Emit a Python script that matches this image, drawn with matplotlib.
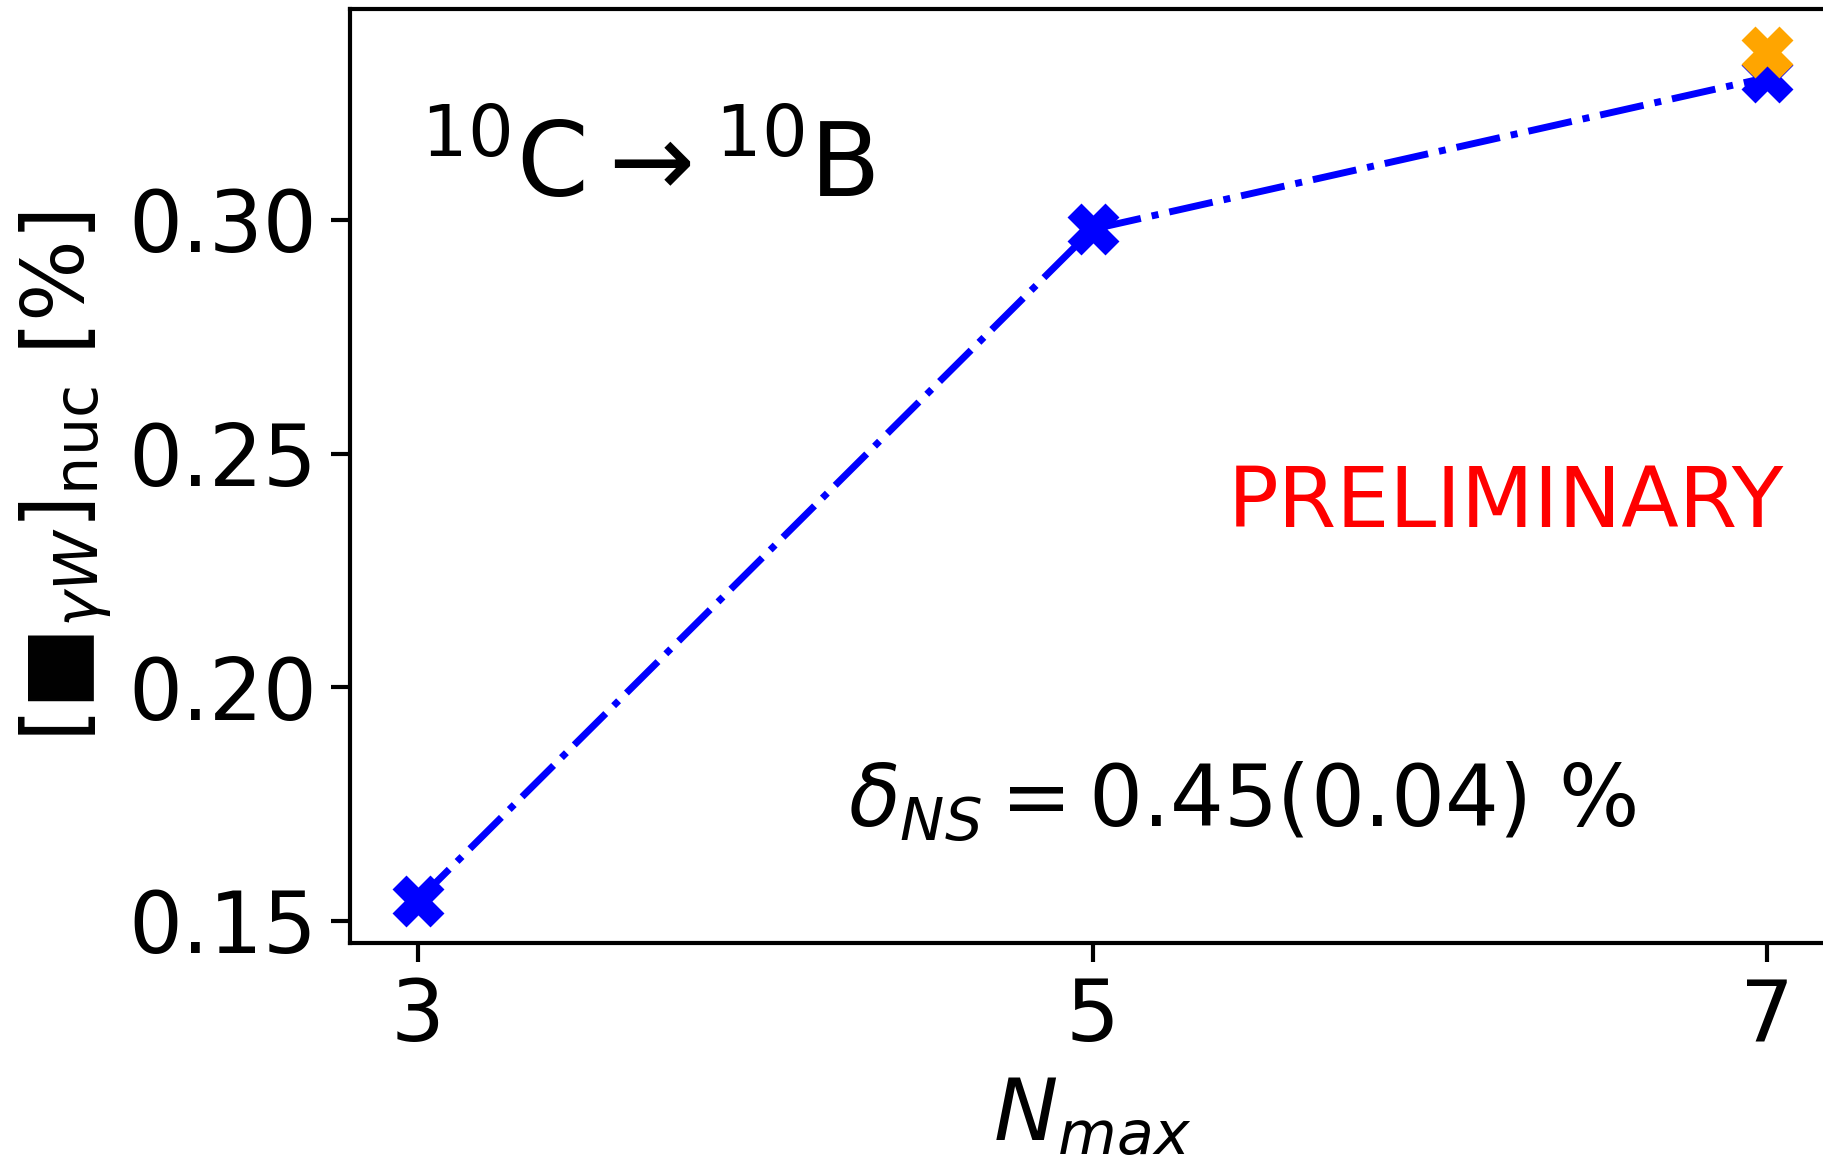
import matplotlib
matplotlib.use('Agg')
import matplotlib.pyplot as plt

# NCSM results vs Nmax
nmax = [3, 5, 7]
blue_vals = [0.1543, 0.2980, 0.3305]
nmax_orange = [7]
orange_vals = [0.3360]

fig = plt.figure(figsize=(9.12, 5.8), dpi=200)
ax = fig.add_axes([0.192, 0.187, 0.814, 0.805])

ax.plot(nmax, blue_vals, color='blue', linestyle='-.', linewidth=2.5,
        marker='X', markersize=17)
ax.plot(nmax_orange, orange_vals, color='orange', linestyle='none',
        marker='X', markersize=17)

ax.set_xticks([3, 5, 7])
ax.set_yticks([0.15, 0.20, 0.25, 0.30])
ax.tick_params(labelsize=30.5, length=7, width=1.5, pad=5)
for s in ax.spines.values():
    s.set_linewidth(1.5)

ax.set_xlabel(r'$N_{max}$', fontsize=31, labelpad=6)
ax.set_ylabel(r'$[■_{\gamma W}]_{\rm nuc}$ [%]', fontsize=31, labelpad=5)

ax.text(3.01, 0.305, r'$^{10}$C$\rightarrow^{10}$B', fontsize=37)
ax.text(5.40, 0.2343, 'PRELIMINARY', color='red', fontsize=30.3)
ax.text(4.275, 0.170, r'$\delta_{NS} = 0.45(0.04)$ %', fontsize=30.5)

fig.savefig('out.png', dpi=200)
